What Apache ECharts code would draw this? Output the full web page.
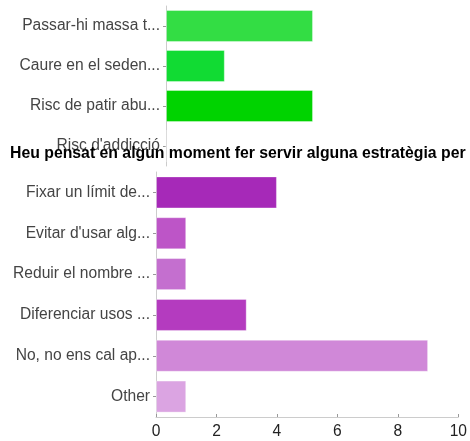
<!DOCTYPE html>
<html>
<head>
<meta charset="utf-8">
<script src="https://cdn.jsdelivr.net/npm/echarts@6/dist/echarts.min.js"></script>
<style>
html,body{margin:0;padding:0;background:#fff;}
#c{width:470px;height:441px;}
</style>
</head>
<body>
<div id="c"></div>
<script>
const topCategories = ['Passar-hi massa t...', 'Caure en el seden...', 'Risc de patir abu...', "Risc d'addicció"];
const topValues = [5, 2, 5, 0];
const topColors = ['#33dd44', '#11db33', '#00d300', '#00c800'];
const titleText = 'Heu pensat en algun moment fer servir alguna estratègia per';
const bottomCategories = ['Fixar un límit de...', "Evitar d'usar alg...", 'Reduir el nombre ...', 'Diferenciar usos ...', 'No, no ens cal ap...', 'Other'];
const bottomValues = [4, 1, 1, 3, 9, 1];
const bottomColors = ['#a629b8', '#bd55c7', '#c46fcf', '#b43bbf', '#d088d8', '#dba4e2'];
const xTicks = [0, 2, 4, 6, 8, 10];

const FONT = '"Liberation Sans", Arial, sans-serif';
const FS = 15.6;
const chart = echarts.init(document.getElementById('c'), null, {renderer: 'canvas'});

function withColors(vals, cols) {
  return vals.map((v, i) => ({value: v, itemStyle: {color: cols[i], borderColor: 'rgba(255,255,255,0.35)', borderWidth: 1}}));
}

chart.setOption({
  animation: false,
  backgroundColor: '#fff',
  textStyle: {fontFamily: FONT},
  title: {
    text: titleText,
    left: 5, top: 141,
    textStyle: {fontFamily: FONT, fontSize: 15.8, fontWeight: 'bold', color: '#000'},
    z: 10
  },
  grid: [
    {left: 166, top: 6, width: 294, height: 160},
    {left: 156, top: 172, width: 303, height: 245}
  ],
  xAxis: [
    {gridIndex: 0, type: 'value', min: xTicks[0], max: xTicks[xTicks.length - 1], interval: 2,
     axisLine: {show: false}, axisTick: {show: false}, axisLabel: {show: false}, splitLine: {show: false}},
    {gridIndex: 1, type: 'value', min: xTicks[0], max: xTicks[xTicks.length - 1], interval: 2,
     axisLine: {show: true, lineStyle: {color: '#cccccc'}},
     axisTick: {show: true, length: 3, inside: true, lineStyle: {color: '#999'}},
     axisLabel: {margin: 7, fontSize: FS, color: '#222', fontFamily: FONT},
     splitLine: {show: false}}
  ],
  yAxis: [
    {gridIndex: 0, type: 'category', inverse: true, data: topCategories,
     axisLine: {show: true, lineStyle: {color: '#cccccc'}},
     axisTick: {show: true, length: 3, alignWithLabel: true, lineStyle: {color: '#999'}},
     axisLabel: {margin: 6, fontSize: FS, color: '#444', fontFamily: FONT}},
    {gridIndex: 1, type: 'category', inverse: true, data: bottomCategories,
     axisLine: {show: true, lineStyle: {color: '#cccccc'}},
     axisTick: {show: true, length: 3, alignWithLabel: true, lineStyle: {color: '#999'}},
     axisLabel: {margin: 6, fontSize: FS, color: '#444', fontFamily: FONT}}
  ],
  series: [
    {type: 'bar', xAxisIndex: 0, yAxisIndex: 0, barCategoryGap: '20%', data: withColors(topValues, topColors)},
    {type: 'bar', xAxisIndex: 1, yAxisIndex: 1, barCategoryGap: '21.5%', data: withColors(bottomValues, bottomColors)}
  ]
});
</script>
</body>
</html>
